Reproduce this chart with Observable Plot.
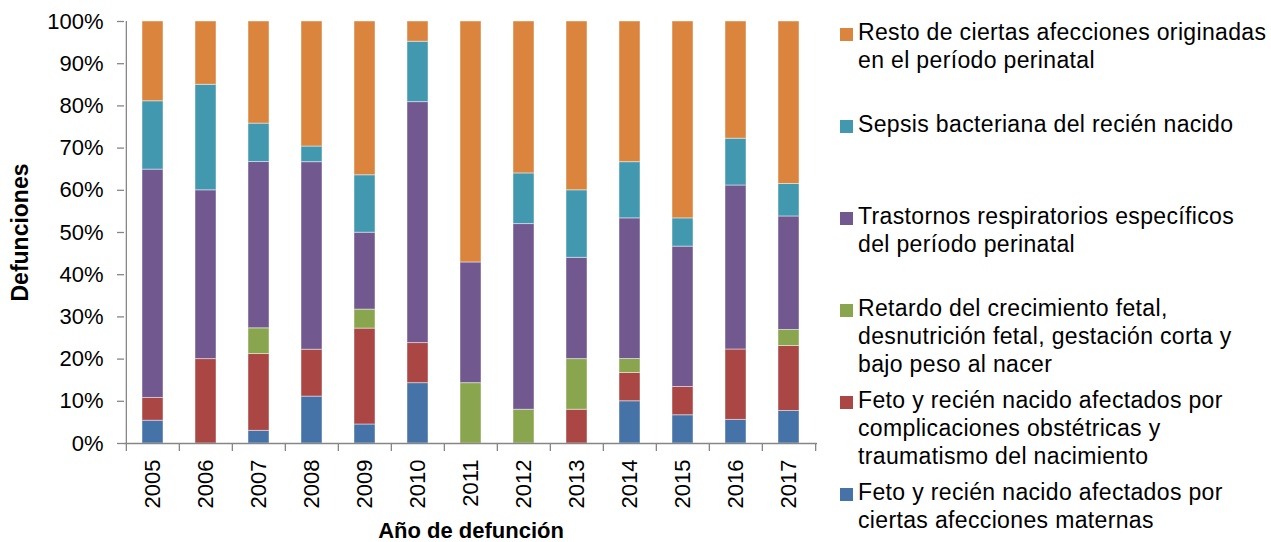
<!DOCTYPE html>
<html>
<head>
<meta charset="utf-8">
<script src="https://cdn.jsdelivr.net/npm/d3@7"></script>
<script src="https://cdn.jsdelivr.net/npm/@observablehq/plot@0.6"></script>
<style>
  html, body { margin: 0; padding: 0; background: #fff; }
  #wrap { position: relative; width: 1271px; height: 542px; font-family: "Liberation Sans", Arial, sans-serif; }
  #chart svg { display: block; }
  #legend { position: absolute; left: 840px; top: 18px; width: 431px; }
  .item { position: absolute; left: 0; display: flex; align-items: flex-start; font-size: 23px; line-height: 28px; letter-spacing: 0.35px; color: #000; white-space: pre-line; }
  .sw { width: 13px; height: 13px; margin-top: 10px; margin-right: 5px; flex: none; }
</style>
</head>
<body>
<div id="wrap">
  <div id="chart"></div>
  <div id="legend"></div>
</div>
<script>
// Categories
const years = ["2005","2006","2007","2008","2009","2010","2011","2012","2013","2014","2015","2016","2017"];

// Series (bottom to top), percentage of deaths per year
const seriesNames = [
  "Feto y recién nacido afectados por ciertas afecciones maternas",
  "Feto y recién nacido afectados por complicaciones obstétricas y traumatismo del nacimiento",
  "Retardo del crecimiento fetal, desnutrición fetal, gestación corta y bajo peso al nacer",
  "Trastornos respiratorios específicos del período perinatal",
  "Sepsis bacteriana del recién nacido",
  "Resto de ciertas afecciones originadas en el período perinatal"
];
const legendLabels = [
  "Feto y recién nacido afectados por\nciertas afecciones maternas",
  "Feto y recién nacido afectados por\ncomplicaciones obstétricas y\ntraumatismo del nacimiento",
  "Retardo del crecimiento fetal,\ndesnutrición fetal, gestación corta y\nbajo peso al nacer",
  "Trastornos respiratorios específicos\ndel período perinatal",
  "Sepsis bacteriana del recién nacido",
  "Resto de ciertas afecciones originadas\nen el período perinatal"
];
const colors = ["#4572A7", "#AA4643", "#89A54E", "#71588F", "#4198AF", "#DB843D"];

const maternas        = [5.4, 0, 3.0, 11.1, 4.5, 14.3, 0, 0, 0, 10.0, 6.7, 5.6, 7.7];
const complicaciones  = [5.4, 20.0, 18.2, 11.1, 22.7, 9.5, 0, 0, 8.0, 6.7, 6.7, 16.7, 15.4];
const retardo         = [0, 0, 6.1, 0, 4.5, 0, 14.3, 8.0, 12.0, 3.3, 0, 0, 3.8];
const respiratorios   = [54.1, 40.0, 39.4, 44.4, 18.2, 57.1, 28.6, 44.0, 24.0, 33.3, 33.3, 38.9, 26.9];
const sepsis          = [16.2, 25.0, 9.1, 3.7, 13.6, 14.3, 0, 12.0, 16.0, 13.3, 6.7, 11.1, 7.7];
const resto           = [18.9, 15.0, 24.2, 29.6, 36.4, 4.8, 57.1, 36.0, 40.0, 33.3, 46.7, 27.8, 38.5];

const yTicks = [0, 0.1, 0.2, 0.3, 0.4, 0.5, 0.6, 0.7, 0.8, 0.9, 1.0];
const yTitle = "Defunciones";
const xTitle = "Año de defunción";

const seriesValues = [maternas, complicaciones, retardo, respiratorios, sepsis, resto];
const data = [];
seriesValues.forEach((vals, si) => vals.forEach((v, i) => {
  if (v > 0) data.push({year: years[i], cause: seriesNames[si], value: v});
}));

const W = 1271, H = 542, mL = 124, mR = 454, mT = 21, mB = 99;
const step = (W - mL - mR) / years.length;
const axisColor = "#868686";
const font = "Liberation Sans, Arial, sans-serif";

const chart = Plot.plot({
  width: W, height: H,
  marginLeft: mL, marginRight: mR, marginTop: mT, marginBottom: mB,
  style: {fontFamily: font, fontSize: "22px", color: "#000", background: "#fff", overflow: "visible"},
  x: {domain: years, paddingInner: 0.6, paddingOuter: 0.3, label: null},
  y: {domain: [0, 1], label: null},
  color: {domain: seriesNames, range: colors},
  marks: [
    Plot.barY(data, Plot.stackY({
      x: "year", y: "value", z: "cause", fill: "cause",
      order: seriesNames, offset: "normalize",
      stroke: "#fff", strokeOpacity: 0.45, strokeWidth: 1
    })),
    Plot.ruleY([0], {stroke: axisColor, strokeWidth: 1.3}),
    Plot.ruleX([years[0]], {x: d => d, dx: -step / 2, y1: 0, y2: 1, stroke: axisColor, strokeWidth: 1.3}),
    Plot.ruleX(years, {x: d => d, dx: -step / 2, y1: 0, y2: -0.019, stroke: axisColor, strokeWidth: 1.3}),
    Plot.ruleX([years[years.length - 1]], {x: d => d, dx: step / 2, y1: 0, y2: -0.019, stroke: axisColor, strokeWidth: 1.3}),
    Plot.axisY({ticks: yTicks, tickFormat: d => Math.round(d * 100) + "%", tickSize: 7, tickPadding: 14,
      stroke: axisColor, strokeWidth: 1.3, fontSize: 22, label: null}),
    Plot.axisX({tickSize: 0, tickPadding: 16, tickRotate: -90, fontSize: 22, label: null}),
    Plot.text([yTitle], {text: d => d, frameAnchor: "left", dx: -104, rotate: -90,
      textAnchor: "middle", lineAnchor: "middle", fontWeight: "bold", fontSize: 23}),
    Plot.text([xTitle], {text: d => d, frameAnchor: "bottom", dy: 87,
      textAnchor: "middle", lineAnchor: "middle", fontWeight: "bold", fontSize: 22})
  ]
});
document.getElementById("chart").appendChild(chart);

// Legend (top entry = top of stack)
const legend = d3.select("#legend");
const order = d3.range(seriesNames.length).reverse();
order.forEach((si, k) => {
  const item = legend.append("div").attr("class", "item").style("top", (k * 92) + "px");
  item.append("div").attr("class", "sw").style("background", colors[si]);
  item.append("div").text(legendLabels[si]);
});
</script>
</body>
</html>
